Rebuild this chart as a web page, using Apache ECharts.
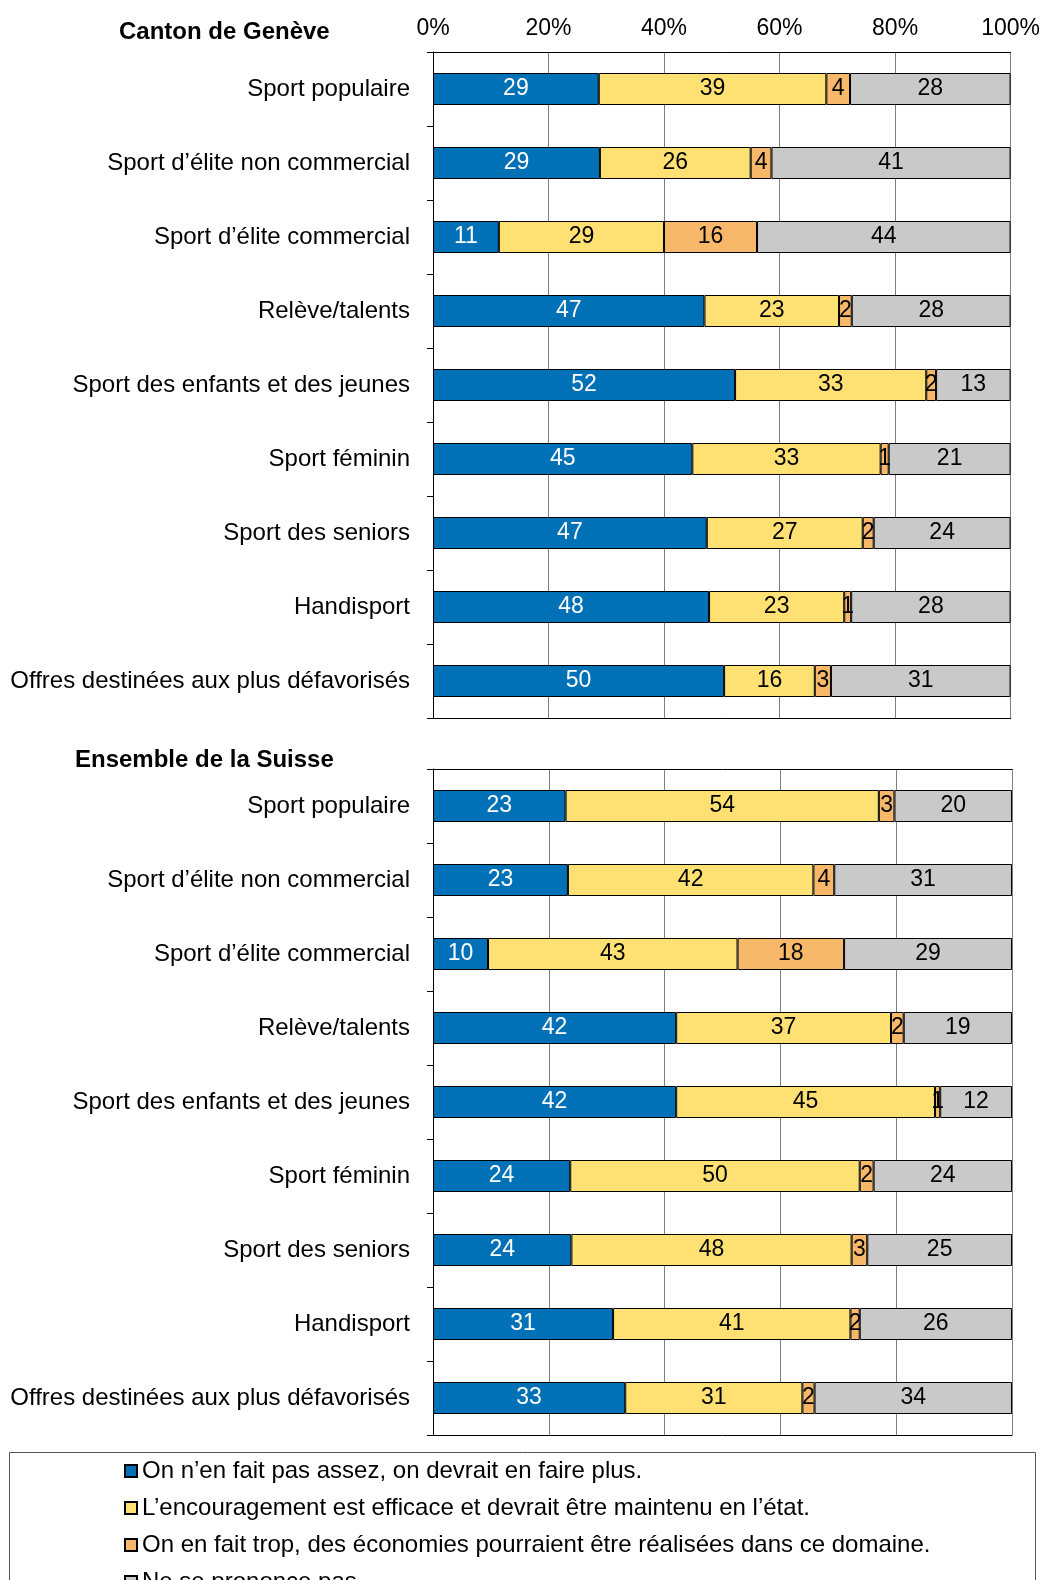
<!DOCTYPE html>
<html>
<head>
<meta charset="utf-8">
<script src="https://cdn.jsdelivr.net/npm/echarts@6/dist/echarts.min.js"></script>
<style>
  html, body { margin: 0; padding: 0; background: #fff; }
  #chart { width: 1043px; height: 1580px; }
</style>
</head>
<body>
<div id="chart"></div>
<script>
const categories = [
  'Sport populaire',
  'Sport d’élite non commercial',
  'Sport d’élite commercial',
  'Relève/talents',
  'Sport des enfants et des jeunes',
  'Sport féminin',
  'Sport des seniors',
  'Handisport',
  'Offres destinées aux plus défavorisés'
]
const seriesNames = [
  'On n’en fait pas assez, on devrait en faire plus.',
  'L’encouragement est efficace et devrait être maintenu en l’état.',
  'On en fait trop, des économies pourraient être réalisées dans ce domaine.',
  'Ne se prononce pas'
]
const panelTitles = ['Canton de Genève', 'Ensemble de la Suisse']

// Canton de Genève (%)
const genevePlus = [28.7, 28.9, 11.4, 47.0, 52.3, 44.9, 47.4, 47.8, 50.4]
const geneveKeep = [39.4, 26.1, 28.6, 23.3, 33.1, 32.6, 27.0, 23.4, 15.7]
const geneveLess = [4.1, 3.6, 16.1, 2.2, 1.7, 1.4, 1.9, 1.2, 2.8]
const geneveNone = [27.8, 41.4, 43.9, 27.5, 12.9, 21.1, 23.7, 27.6, 31.1]

// Ensemble de la Suisse (%)
const suissePlus = [22.9, 23.3, 9.5, 42.0, 42.0, 23.7, 23.9, 31.1, 33.2]
const suisseKeep = [54.1, 42.4, 43.1, 37.1, 44.7, 50.0, 48.4, 41.0, 30.6]
const suisseLess = [2.7, 3.6, 18.4, 2.2, 0.9, 2.4, 2.7, 1.6, 2.1]
const suisseNone = [20.3, 30.7, 29.0, 18.7, 12.4, 23.9, 25.0, 26.3, 34.1]

const pctTicks = [0, 20, 40, 60, 80, 100]

const colors = ['#0071b6', '#ffe173', '#f8b86a', '#c9c9c9']
const labelColors = ['#fff', '#000', '#000', '#000']
const font = '"Liberation Sans", Arial, sans-serif'

const chart = echarts.init(document.getElementById('chart'))

const grids = [
  { left: 433, right: 31, top: 52, height: 666 },
  { left: 433, right: 31, top: 769, height: 666 }
]

const xAxes = []
const yAxes = []
grids.forEach((g, i) => {
  // top axis (labels only on the first panel)
  xAxes.push({
    type: 'value', gridIndex: i, position: 'top',
    min: pctTicks[0], max: pctTicks[pctTicks.length - 1], interval: pctTicks[1] - pctTicks[0],
    axisLine: { show: true, lineStyle: { color: '#000', width: 1 } },
    axisTick: { show: false },
    axisLabel: {
      show: i === 0, margin: 12, color: '#000', fontSize: 23, fontFamily: font,
      formatter: '{value}%'
    },
    splitLine: { show: true, lineStyle: { color: '#7f7f7f', width: 1 } }
  })
  // bottom frame line
  xAxes.push({
    type: 'value', gridIndex: i, position: 'bottom',
    min: 0, max: 100,
    axisLine: { show: true, lineStyle: { color: '#000', width: 1 } },
    axisTick: { show: false }, axisLabel: { show: false }, splitLine: { show: false }
  })
  yAxes.push({
    type: 'category', gridIndex: i, inverse: true, data: categories,
    axisLine: { show: true, lineStyle: { color: '#000', width: 1 } },
    axisTick: { show: true, length: 6, lineStyle: { color: '#000' } },
    axisLabel: { margin: 23, color: '#000', fontSize: 24, fontFamily: font }
  })
})

const panelData = [
  [genevePlus, geneveKeep, geneveLess, geneveNone],
  [suissePlus, suisseKeep, suisseLess, suisseNone]
]

const series = []
panelData.forEach((sets, p) => {
  sets.forEach((vals, k) => {
    series.push({
      name: seriesNames[k],
      type: 'bar',
      stack: 'panel' + p,
      xAxisIndex: p * 2,
      yAxisIndex: p,
      barWidth: 32,
      data: vals,
      itemStyle: { color: colors[k], borderColor: '#000', borderWidth: 1 },
      label: {
        show: true, position: 'inside', color: labelColors[k],
        fontSize: 23, fontFamily: font,
        formatter: (d) => Math.round(d.value)
      },
      emphasis: { disabled: true }
    })
  })
})

chart.setOption({
  animation: false,
  textStyle: { fontFamily: font },
  title: [
    { text: panelTitles[0], left: 119, top: 20, padding: 0,
      textStyle: { fontSize: 24, fontWeight: 'bold', color: '#000', fontFamily: font } },
    { text: panelTitles[1], left: 75, top: 748, padding: 0,
      textStyle: { fontSize: 24, fontWeight: 'bold', color: '#000', fontFamily: font } }
  ],
  grid: grids,
  xAxis: xAxes,
  yAxis: yAxes,
  legend: {
    data: seriesNames,
    orient: 'vertical',
    left: 124, top: 1459,
    width: 800, height: 300,
    padding: 0,
    itemWidth: 12, itemHeight: 12, itemGap: 13,
    icon: 'rect',
    textStyle: { fontSize: 24, lineHeight: 24, color: '#000', fontFamily: font }
  },
  graphic: [{
    type: 'rect', silent: true,
    shape: { x: 9.5, y: 1452.5, width: 1026, height: 200 },
    style: { fill: 'none', stroke: '#555', lineWidth: 1 }
  }],
  series: series
})
</script>
</body>
</html>
